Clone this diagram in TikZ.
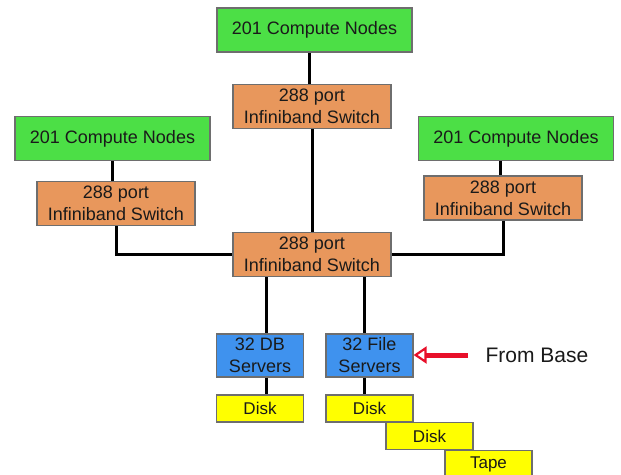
\documentclass[tikz,border=0pt]{standalone}
\usepackage{fontspec}
\setmainfont{Liberation Sans}
\usetikzlibrary{arrows.meta}
\definecolor{nodegreen}{HTML}{4CDF46}
\definecolor{switchorange}{HTML}{E8975C}
\definecolor{serverblue}{HTML}{3F92EE}
\definecolor{diskyellow}{HTML}{FFFF00}
\definecolor{boxedge}{HTML}{6E6E6E}
\definecolor{textdark}{HTML}{1A1A1A}
\definecolor{arrowred}{HTML}{E8102A}
\tikzset{
  box/.style={draw=boxedge, line width=1.2pt, inner sep=0pt, text=textdark,
    font=\fontsize{18}{22}\selectfont, align=center},
  compute/.style={box, fill=nodegreen, minimum width=195pt, minimum height=44pt},
  switchbox/.style={box, fill=switchorange, minimum width=158pt, minimum height=44pt},
  serverbox/.style={box, fill=serverblue, minimum width=87pt, minimum height=43pt},
  storebox/.style={box, fill=diskyellow, minimum width=87pt, minimum height=27pt, font=\fontsize{17}{19}\selectfont},
  link/.style={line width=3pt, black},
}
\begin{document}
\begin{tikzpicture}[x=1pt, y=-1pt]
\useasboundingbox (0,0) rectangle (621,474);
\clip (0,0) rectangle (621,474);
\fill[white] (0,0) rectangle (621,474);

% compute node groups
\node[compute] (cTop)   at (314.5,30)   {201 Compute Nodes};
\node[compute] (cLeft)  at (112.5,138.5) {201 Compute Nodes};
\node[compute] (cRight) at (516,138.5)  {201 Compute Nodes};

% switches
\node[switchbox] (sTop)    at (312,106.5) {288 port\\Infiniband Switch};
\node[switchbox] (sLeft)   at (116,203.5) {288 port\\Infiniband Switch};
\node[switchbox] (sRight)  at (503,198)   {288 port\\Infiniband Switch};
\node[switchbox] (sCenter) at (312,254.5) {288 port\\Infiniband Switch};

% servers
\node[serverbox] (db)   at (260,355.5) {32 DB\\Servers};
\node[serverbox] (file) at (369.5,355.5) {32 File\\Servers};

% storage
\node[storebox] (diskDB) at (260,408.5) {Disk};
\node[storebox] (disk1)  at (369.5,408.5) {Disk};
\node[storebox] (disk2)  at (429.5,436)   {Disk};
\node[storebox] (tape)   at (488.5,464)   {Tape};

% links
\draw[link] (cTop.south -| 309,0) -- (sTop.north -| 309,0);
\draw[link] (sTop.south) -- (sCenter.north);
\draw[link] (cLeft.south) -- (cLeft.south |- sLeft.north);
\draw[link] (cRight.south -| 500,0) -- (sRight.north -| 500,0);
\draw[link] (sLeft.south) |- (sCenter.west);
\draw[link] (sRight.south) |- (sCenter.east);
\draw[link] (sCenter.south -| 266,0) -- (db.north -| 266,0);
\draw[link] (sCenter.south -| 364,0) -- (file.north -| 364,0);
\draw[link] (db.south -| 266,0) -- (diskDB.north -| 266,0);
\draw[link] (file.south -| 364,0) -- (disk1.north -| 364,0);

% external feed
\node[font=\fontsize{21}{24}\selectfont, text=textdark, anchor=west] (base) at (482,355) {From Base};
\draw[arrowred, line width=5pt,
  -{Triangle[open, length=13pt, width=17pt, line width=2.2pt, fill=white]}]
  (468,355) -- (file.east |- 0,355);
\end{tikzpicture}
\end{document}
